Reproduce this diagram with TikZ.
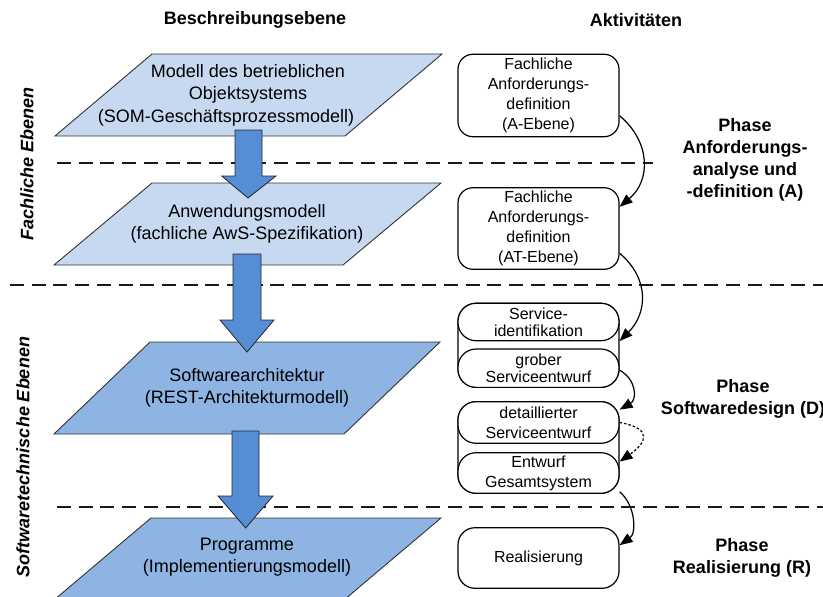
\documentclass[tikz,border=0pt]{standalone}
\usepackage{fontspec}
\setmainfont{Liberation Sans}
\usetikzlibrary{arrows.meta}
\definecolor{lightpl}{HTML}{C6D9F1}
\definecolor{darkpl}{HTML}{8DB4E2}
\definecolor{arrowblue}{HTML}{558ED5}
\tikzset{
  plane/.style={draw=black!80, line width=0.9pt},
  lightplane/.style={plane, fill=lightpl},
  darkplane/.style={plane, fill=darkpl},
  blockarrow/.style={draw=black!85, line width=0.8pt, fill=arrowblue},
  sep/.style={draw=black!90, line width=1.8pt, dash pattern=on 14pt off 7.7pt},
  maintext/.style={align=center, font=\fontsize{18}{22}\selectfont, inner sep=0pt},
  header/.style={font=\bfseries\fontsize{18}{22}\selectfont, inner sep=0pt},
  sidelabel/.style={font=\bfseries\itshape\fontsize{18}{22}\selectfont, rotate=90, inner sep=0pt},
  phase/.style={align=center, font=\bfseries\fontsize{18}{22}\selectfont, inner sep=0pt},
  actbox/.style={draw, line width=1.2pt, fill=white, rounded corners=15pt, minimum width=161pt,
     inner sep=0pt, align=center, font=\fontsize{16}{20}\selectfont},
  actgroup/.style={draw, line width=1.2pt, fill=white, rounded corners=18pt, minimum width=161pt, inner sep=0pt},
  actsub/.style={draw, line width=1.2pt, fill=white, rounded corners=18pt, minimum width=161pt,
     inner sep=0pt, align=center},
  flow/.style={line width=1.2pt, -{Triangle[length=13pt,width=10pt]}},
  flowdot/.style={flow, dash pattern=on 2.5pt off 2pt},
}
\begin{document}
\begin{tikzpicture}[x=1pt,y=-1pt]
\useasboundingbox (0,0) rectangle (823,597);

% headers
\node[header] (h1) at (255,20) {Beschreibungsebene};
\node[header] (h2) at (636,20) {Aktivitäten};

% side labels
\node[sidelabel] (s1) at (27,164) {Fachliche Ebenen};
\node[sidelabel] (s2) at (23,457) {Softwaretechnische Ebenen};

% planes
\draw[lightplane] (152,54) -- (442,54) -- (345,136) -- (55,136) -- cycle;
\draw[lightplane] (152,183) -- (441,183) -- (343,265) -- (54,265) -- cycle;
\draw[darkplane] (150,342) -- (440,342) -- (344,434) -- (54,434) -- cycle;
\begin{scope}
\clip (0,0) rectangle (823,597);
\draw[darkplane] (151,518) -- (441,518) -- (344,600) -- (54,600) -- cycle;
\end{scope}

\node[maintext] (p1a) at (248,84) {Modell des betrieblichen\\Objektsystems};
\node[maintext] (p1b) at (226,118) {(SOM-Geschäftsprozessmodell)};
\node[maintext] (p2) at (247,224) {Anwendungsmodell\\(fachliche AwS-Spezifikation)};
\node[maintext] (p3) at (247,388) {Softwarearchitektur\\(REST-Architekturmodell)};
\node[maintext] (p4) at (247,557.5) {Programme\\(Implementierungsmodell)};

% dashed separators
\coordinate (d1a) at (57,163);  \coordinate (d1b) at (653,163);
\coordinate (d2a) at (10,285);  \coordinate (d2b) at (823,285);
\coordinate (d3a) at (57,507);  \coordinate (d3b) at (823,507);
\draw[sep] (d1a) -- (d1b);
\draw[sep] (d2a) -- (d2b);
\draw[sep] (d3a) -- (d3b);

% block arrows
\draw[blockarrow] (235,130) -- (262,130) -- (262,176) -- (276,176) -- (248,198) -- (221.7,176) -- (235,176) -- cycle;
\draw[blockarrow] (233,254) -- (261,254) -- (261,320) -- (274,320) -- (247,352) -- (220,320) -- (233,320) -- cycle;
\draw[blockarrow] (232,431) -- (259,431) -- (259,496) -- (273,496) -- (245.7,528) -- (218,496) -- (232,496) -- cycle;

% activity boxes
\node[actbox, minimum height=82.5pt] (bA) at (538.5,95.5) {Fachliche\\Anforderungs-\\definition\\(A-Ebene)};
\node[actbox, minimum height=81.6pt] (bAT) at (538.5,228.5) {Fachliche\\Anforderungs-\\definition\\(AT-Ebene)};

\node[actgroup, minimum height=84pt] (g1) at (538.5,345.3) {};
\node[actsub, minimum height=37.4pt, font=\fontsize{16}{17}\selectfont] (si) at (538.5,322) {Service-\\identifikation};
\node[actsub, minimum height=38.3pt, font=\fontsize{16}{17}\selectfont] (gs) at (538.5,368.2) {grober\\Serviceentwurf};

\node[actgroup, minimum height=91.6pt] (g2) at (538.5,447.5) {};
\node[actsub, minimum height=41.6pt, font=\fontsize{16}{20}\selectfont] (ds) at (538.5,422.5) {detaillierter\\Serviceentwurf};
\node[actsub, minimum height=40.6pt, font=\fontsize{16}{20}\selectfont] (eg) at (538.5,473) {Entwurf\\Gesamtsystem};

\node[actbox, minimum height=60.6pt, rounded corners=17pt] (re) at (538.5,558) {Realisierung};

% phase labels
\node[phase] (phA) at (745,160) {Phase\\Anforderungs-\\analyse und\\-definition (A)};
\node[phase] (phD) at (743,399) {Phase\\Softwaredesign (D)};
\node[phase] (phR) at (742,558) {Phase\\Realisierung (R)};

% flow connectors
\draw[flow] (bA.-14) to[out=-40,in=40,looseness=1.15] (bAT.15);
\draw[flow] (bAT.-17) to[out=-40,in=45,looseness=1.15] (g1.3);
\draw[flow] (g1.-17) to[out=-30,in=30,looseness=1.3] (ds.9);
\draw[flowdot] (ds.east) to[out=-10,in=35,looseness=2.2] (eg.8);
\draw[flow] (eg.-13) to[out=-40,in=35] (re.9);
\end{tikzpicture}
\end{document}
